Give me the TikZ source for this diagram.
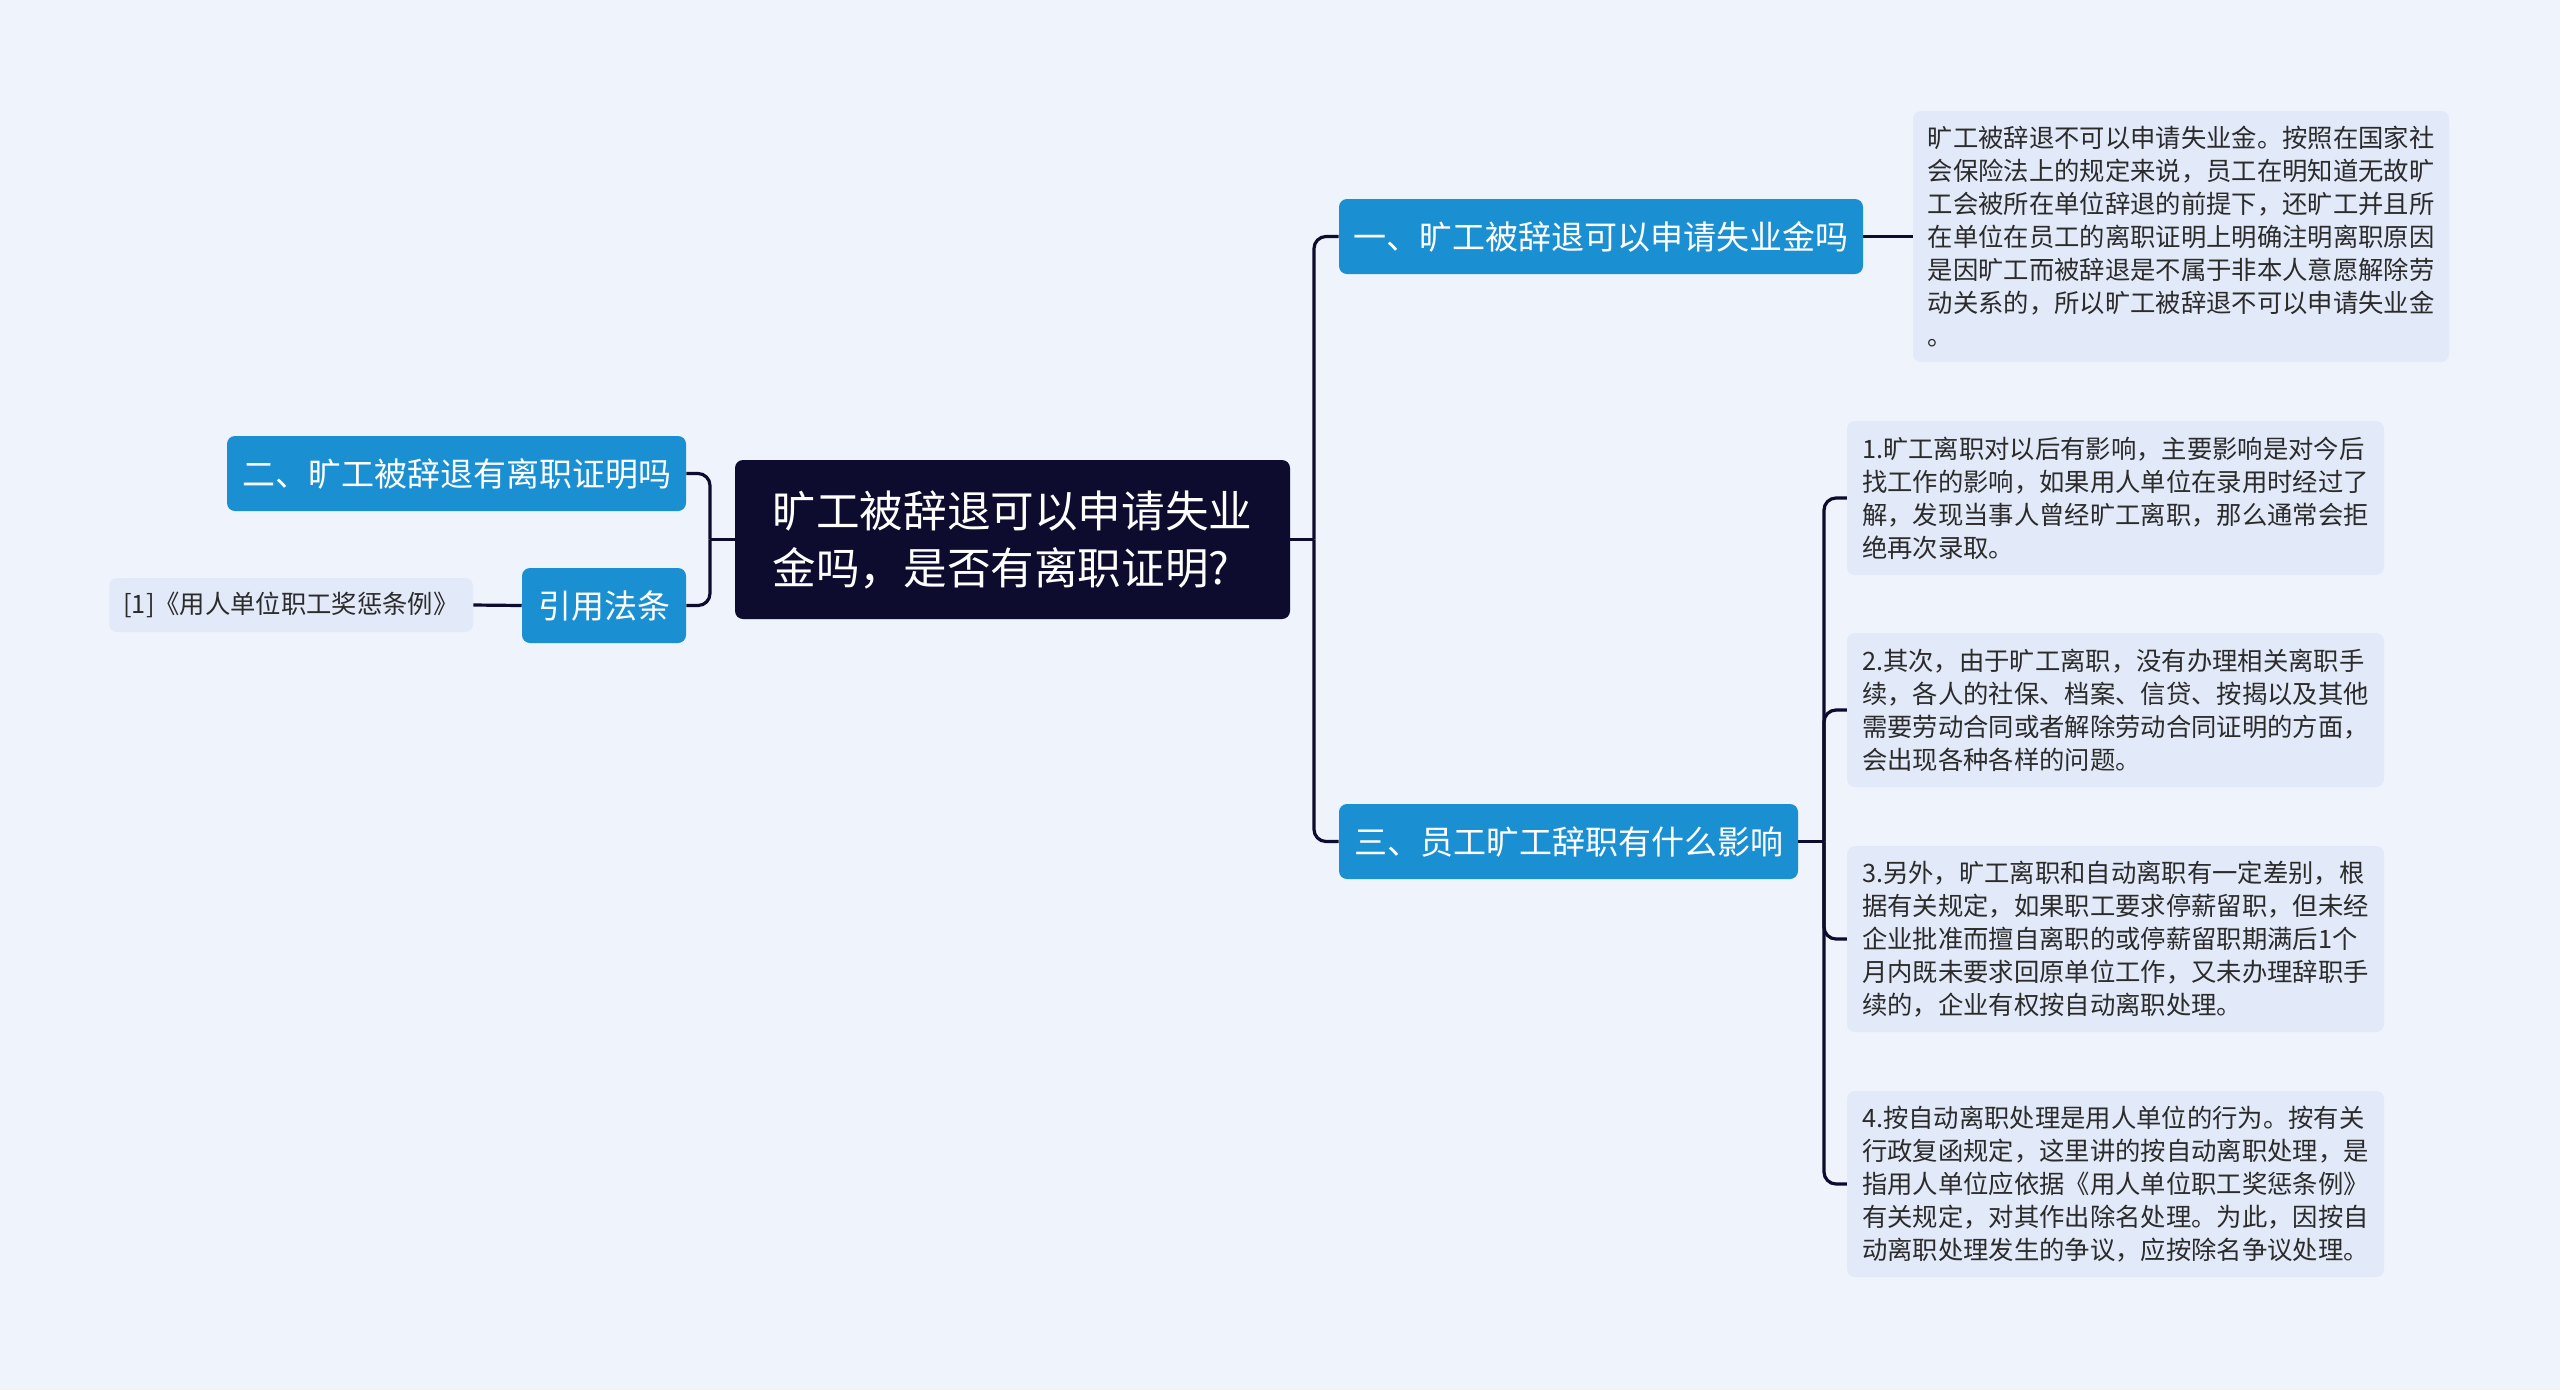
\documentclass[tikz,border=0pt]{standalone}
\usepackage{fontspec}
\setmainfont{Noto Sans CJK SC}
\definecolor{bgc}{HTML}{EEF3FC}
\definecolor{navy}{HTML}{0D0B2E}
\definecolor{bluec}{HTML}{1A8FD2}
\definecolor{leafc}{HTML}{E2E9F8}
\definecolor{txtc}{HTML}{2B2B2B}
\begin{document}
\begin{tikzpicture}[x=0.75pt,y=-0.75pt,
  rootbox/.style={fill=navy, text=white, rounded corners=6pt, inner sep=0pt, align=left,
    minimum width=416.25pt, minimum height=119.25pt, font=\fontsize{32.7}{42.75}\selectfont},
  bluebox/.style={fill=bluec, text=white, rounded corners=6pt, inner sep=0pt,
    minimum height=56.25pt, font=\fontsize{24.75}{30}\selectfont},
  leafbox/.style={fill=leafc, text=txtc, rounded corners=6pt, inner sep=0pt, align=left,
    minimum width=402.75pt, font=\fontsize{19}{24.75}\selectfont},
  conn/.style={draw=navy, line width=2.4pt},
  elbow/.style={conn, rounded corners=9pt}
]
\fill[bgc] (0,0) rectangle (2560,1390);
\useasboundingbox (0,0) rectangle (2560,1390);

\node[rootbox] (root) at (1012.5,539.5) {旷工被辞退可以申请失业\\金吗，是否有离职证明?};

\node[bluebox, minimum width=393pt] (b1) at (1601,236.5) {一、旷工被辞退可以申请失业金吗};
\node[bluebox, minimum width=344.25pt] (b3) at (1568.5,841.5) {三、员工旷工辞职有什么影响};
\node[bluebox, minimum width=344.25pt] (b2) at (456.5,473.5) {二、旷工被辞退有离职证明吗};
\node[bluebox, minimum width=123pt] (law) at (604,605.5) {引用法条};

\node[leafbox, minimum width=273pt, minimum height=40.5pt] (ref) at (291,605) {[1]《用人单位职工奖惩条例》};

\node[leafbox, minimum width=402pt, minimum height=188.25pt] (tb) at (2181,236.5) {旷工被辞退不可以申请失业金。按照在国家社\\会保险法上的规定来说，员工在明知道无故旷\\工会被所在单位辞退的前提下，还旷工并且所\\在单位在员工的离职证明上明确注明离职原因\\是因旷工而被辞退是不属于非本人意愿解除劳\\动关系的，所以旷工被辞退不可以申请失业金\\。};

\node[leafbox, minimum height=115.5pt] (l1) at (2115.5,498) {1.旷工离职对以后有影响，主要影响是对今后\\找工作的影响，如果用人单位在录用时经过了\\解，发现当事人曾经旷工离职，那么通常会拒\\绝再次录取。};
\node[leafbox, minimum height=115.5pt] (l2) at (2115.5,710) {2.其次，由于旷工离职，没有办理相关离职手\\续，各人的社保、档案、信贷、按揭以及其他\\需要劳动合同或者解除劳动合同证明的方面，\\会出现各种各样的问题。};
\node[leafbox, minimum height=139.5pt] (l3) at (2115.5,939) {3.另外，旷工离职和自动离职有一定差别，根\\据有关规定，如果职工要求停薪留职，但未经\\企业批准而擅自离职的或停薪留职期满后1个\\月内既未要求回原单位工作，又未办理辞职手\\续的，企业有权按自动离职处理。};
\node[leafbox, minimum height=139.5pt] (l4) at (2115.5,1184) {4.按自动离职处理是用人单位的行为。按有关\\行政复函规定，这里讲的按自动离职处理，是\\指用人单位应依据《用人单位职工奖惩条例》\\有关规定，对其作出除名处理。为此，因按自\\动离职处理发生的争议，应按除名争议处理。};

% junction points
\coordinate (jr) at (1314,539.5);
\coordinate (jl) at (710,539.5);
\coordinate (j3) at (1824,841.5);

\draw[conn] (root.east) -- (jr);
\draw[elbow] (jr) |- (b1.west);
\draw[elbow] (jr) |- (b3.west);

\draw[conn] (root.west) -- (jl);
\draw[elbow] (jl) |- (b2.east);
\draw[elbow] (jl) |- (law.east);
\draw[conn] (law.west) -- (ref.east);

\draw[conn] (b1.east) -- (tb.west);

\draw[conn] (b3.east) -- (j3);
\draw[elbow] (j3) |- (l1.west);
\draw[elbow] (j3) |- (l2.west);
\draw[elbow] (j3) |- (l3.west);
\draw[elbow] (j3) |- (l4.west);
\end{tikzpicture}
\end{document}
